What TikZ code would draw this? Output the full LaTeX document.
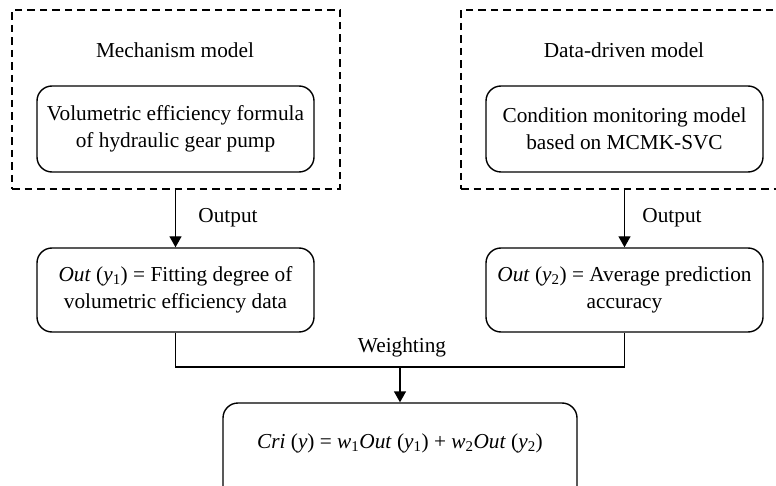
\documentclass[tikz,border=0pt]{standalone}
\usepackage{fontspec}
\setmainfont{Liberation Serif}
\usetikzlibrary{arrows.meta}
\begin{document}
\begin{tikzpicture}[x=1pt,y=-1pt,
  every node/.style={font=\fontsize{21.3}{27}\selectfont, inner sep=0pt},
  dashbox/.style={draw, dash pattern=on 7.5pt off 5pt, line width=1.4pt},
  rbox/.style={draw, rounded corners=15pt, line width=1.4pt, align=center},
  conn/.style={line width=1.4pt},
  arr/.style={conn, -{Triangle[length=11pt,width=12pt]}}]
\clip (0,0) rectangle (776,486);
\fill[white] (0,0) rectangle (776,486);
\node[dashbox, minimum width=328pt, minimum height=179pt] (d1) at (176,99.5) {};
\node[dashbox, minimum width=329pt, minimum height=179pt] (d2) at (625.5,99.5) {};
\node (t1) at (175,50) {Mechanism model};
\node (t2) at (624,50) {Data-driven model};
\node[rbox, minimum width=277pt, minimum height=86pt] (m1) at (175.5,129) {Volumetric efficiency formula\\of hydraulic gear pump};
\node[rbox, minimum width=277pt, minimum height=86pt] (m2) at (624.5,129) {Condition monitoring model\\based on MCMK-SVC};
\node[rbox, minimum width=277pt, minimum height=84pt] (o1) at (175.5,290) {\textit{Out} (\textit{y}\textsubscript{1}) = Fitting degree of\\volumetric efficiency data};
\node[rbox, minimum width=277pt, minimum height=84pt] (o2) at (624.5,290) {\textit{Out} (\textit{y}\textsubscript{2}) = Average prediction\\accuracy};
\node[rbox, minimum width=354pt, minimum height=110pt] (r) at (400,458) {};
\node (rt) at (400,443) {\textit{Cri} (\textit{y}) = \textit{w}\textsubscript{1}\textit{Out} (\textit{y}\textsubscript{1}) + \textit{w}\textsubscript{2}\textit{Out} (\textit{y}\textsubscript{2})};
\draw[arr] (d1.south -| o1.north) -- (o1.north);
\draw[arr] (d2.south -| o2.north) -- (o2.north);
\node (l1) at (228,218) {Output};
\node (l2) at (672,218) {Output};
\coordinate (wj) at (400,367);
\draw[conn] (o1.south) |- (wj) -| (o2.south);
\draw[arr] (wj) -- (r.north);
\node (wl) at (402,347) {Weighting};
\end{tikzpicture}
\end{document}
